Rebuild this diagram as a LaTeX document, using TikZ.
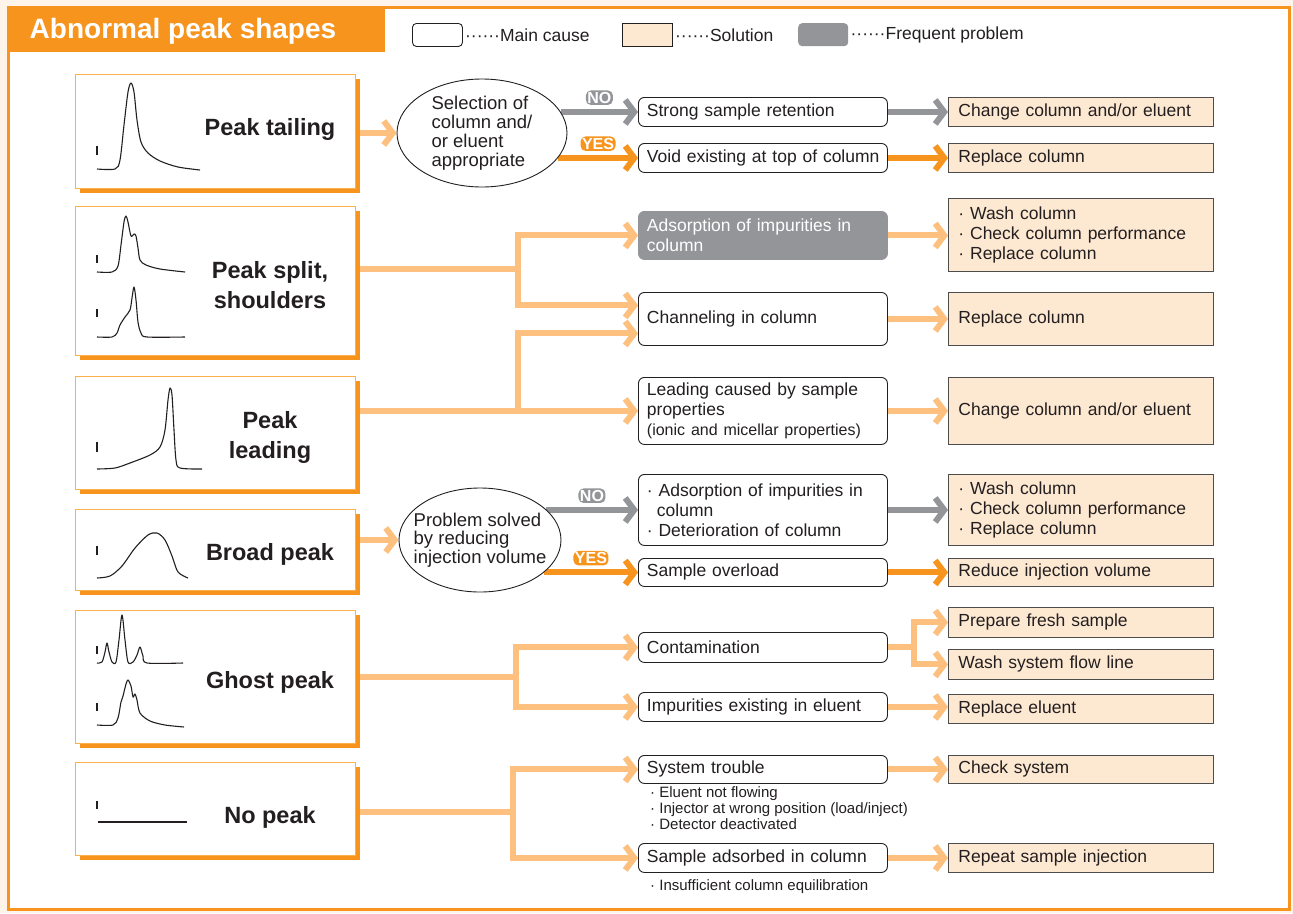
\documentclass[tikz,border=0pt]{standalone}
\usepackage{fontspec}
\setmainfont{Liberation Sans}
\usetikzlibrary{arrows.meta,positioning,shapes.geometric,shadows,backgrounds}

\definecolor{orangeD}{HTML}{F7941D}
\definecolor{orangeL}{HTML}{FDC07F}
\definecolor{orangeB}{HTML}{FBB04C}
\definecolor{peach}{HTML}{FDE8D2}
\definecolor{grayP}{HTML}{939598}
\definecolor{cream}{HTML}{FEF4E9}
\definecolor{ink}{HTML}{231F20}

\begin{document}
\begin{tikzpicture}[x=1pt, y=-1pt,
    every node/.style={text=ink},
    txt/.style={font=\fontsize{17.5}{20}\selectfont},
    shapebox/.style={draw=orangeB, line width=1.2pt, fill=white, anchor=north west,
        minimum width=280pt, drop shadow={shadow xshift=4pt, shadow yshift=-4pt, fill=orangeD, opacity=1}},
    shapelabel/.style={font=\fontsize{23.5}{30}\selectfont\bfseries, align=center},
    cause/.style={txt, draw=ink, line width=0.9pt, rounded corners=6pt, fill=white, anchor=north west,
        text width=232pt, inner xsep=8.5pt, inner ysep=3pt, align=left},
    frequent/.style={cause, draw=grayP, fill=grayP, text=white},
    solution/.style={txt, draw=ink!80, line width=0.9pt, fill=peach, anchor=north west,
        text width=245pt, inner xsep=10pt, inner ysep=3pt, align=left},
    decision/.style={ellipse, draw=ink, line width=0.9pt, fill=white, align=left,
        inner xsep=-18pt, inner ysep=-8pt},
    note/.style={font=\fontsize{15}{16}\selectfont, anchor=north west, align=left, inner sep=0pt},
    flow/.style={line width=6pt, draw=orangeL, -{Straight Barb[length=9pt, width=24pt]}},
    trunk/.style={line width=6pt, draw=orangeL, line cap=rect},
    noflow/.style={flow, draw=grayP},
    yesflow/.style={flow, draw=orangeD},
    badge/.style={font=\fontsize{16}{16}\selectfont\bfseries, text=white, rounded corners=5pt,
        text height=11.5pt, text depth=0pt, inner xsep=1.5pt, inner ysep=1.5pt, above=4pt, midway},
    trace/.style={line width=1.1pt, draw=ink, line join=round},
    tick/.style={line width=1.1pt, draw=ink},
]
    \useasboundingbox (0,0) rectangle (1293,913);

    % Frame and title bar
    \begin{scope}[on background layer]
        \fill[cream] (0,0) rectangle (1293,913);
        \draw[orangeD, line width=3pt, fill=white] (8,7) rectangle (1289,909);
        \fill[orangeD] (8,6) rectangle (385,52);
    \end{scope}
    \node[font=\fontsize{28}{28}\selectfont\bfseries, text=white] (title) at (183,31) {Abnormal peak shapes};

    % Legend
    \node[draw=ink, line width=0.9pt, rounded corners=4pt, minimum width=50pt, minimum height=23pt, anchor=north west] (lgcause) at (412,23) {};
    \node[txt, right=2pt of lgcause, inner sep=0pt] (lgcausetxt) {······Main cause};
    \node[draw=ink, line width=0.9pt, fill=peach, minimum width=50pt, minimum height=23pt, anchor=north west] (lgsol) at (622,23) {};
    \node[txt, right=2pt of lgsol, inner sep=0pt] (lgsoltxt) {······Solution};
    \node[fill=grayP, rounded corners=4pt, minimum width=50pt, minimum height=23pt, anchor=north west] (lgfreq) at (798,23) {};
    \node[txt, right=2pt of lgfreq, inner sep=0pt] (lgfreqtxt) {······Frequent problem};

    % Peak shape boxes
    \node[shapebox, minimum height=114pt] (box1) at (75,74) {};
    \node[shapebox, minimum height=149pt] (box2) at (75,206) {};
    \node[shapebox, minimum height=113pt] (box3) at (75,376) {};
    \node[shapebox, minimum height=81pt] (box4) at (75,509) {};
    \node[shapebox, minimum height=133pt] (box5) at (75,610) {};
    \node[shapebox, minimum height=93pt] (box6) at (75,762) {};

    \node[shapelabel] (lab1) at (270,129) {Peak tailing};
    \node[shapelabel] (lab2) at (270,285) {Peak split,\\shoulders};
    \node[shapelabel] (lab3) at (270,437) {Peak\\leading};
    \node[shapelabel] (lab4) at (270,554) {Broad peak};
    \node[shapelabel] (lab5) at (270,682) {Ghost peak};
    \node[shapelabel] (lab6) at (270,817) {No peak};

    % Chromatograms
    \draw[tick] (97,146) -- (97,155);
    \draw[trace] plot[smooth, tension=0.5] coordinates {(97,169) (115,169) (120,160) (124,125) (128,92) (131,83) (134,92) (137,120) (141,142) (148,153) (160,161) (178,167) (200,170)};
    \draw[tick] (97,255) -- (97,263);
    \draw[trace] plot[smooth, tension=0.5] coordinates {(97,272) (112,272) (118,266) (121,245) (124,222) (126,216) (128,222) (131,236) (134,234) (136,236) (138,248) (140,260) (146,265) (160,269) (185,272)};
    \draw[tick] (97,309) -- (97,317);
    \draw[trace] plot[smooth, tension=0.5] coordinates {(97,337) (112,337) (117,333) (120,325) (125,317) (130,310) (132,298) (134,287) (136,300) (138,322) (141,333) (147,337) (185,337)};
    \draw[tick] (97,442) -- (97,452);
    \draw[trace] plot[smooth, tension=0.5] coordinates {(97,469) (115,468) (130,463) (150,455) (160,447) (165,430) (168,400) (170,388) (172,395) (174,430) (176,460) (180,468) (202,469)};
    \draw[tick] (97,546) -- (97,555);
    \draw[trace] plot[smooth, tension=0.5] coordinates {(97,578) (110,576) (122,566) (135,548) (148,535) (157,533) (165,540) (172,556) (178,572) (188,578)};
    \draw[tick] (97,646) -- (97,654);
    \draw[trace] plot[smooth, tension=0.5] coordinates {(97,663) (102,662) (105,652) (107,643) (109,652) (112,662) (116,662) (119,640) (122,615) (125,640) (128,662) (133,662) (137,655) (140,647) (143,656) (147,663) (183,663)};
    \draw[tick] (97,703) -- (97,711);
    \draw[trace] plot[smooth, tension=0.5] coordinates {(97,725) (113,725) (118,718) (121,702) (123,696) (126,684) (128,680) (131,686) (133,697) (135,694) (137,700) (140,713) (150,721) (165,725) (184,727)};
    \draw[tick] (97,801) -- (97,809);
    \draw[trace] (98,822) -- (187,822);

    % Decisions
    \node[decision, minimum width=170pt, minimum height=108pt, font=\fontsize{18.5}{19}\selectfont] (e1) at (482,133) {Selection of\\column and/\\or eluent\\appropriate};
    \node[decision, minimum width=162pt, minimum height=104pt, font=\fontsize{18.5}{18.5}\selectfont] (e2) at (480,540) {Problem solved\\by reducing\\injection volume};

    % Main causes
    \node[cause, minimum height=29pt] (c1) at (638,97) {Strong sample retention};
    \node[cause, minimum height=29pt] (c2) at (638,143) {\mbox{Void existing at top of column}};
    \node[frequent, minimum height=48pt] (c3) at (638,211) {Adsorption of impurities in\\column};
    \node[cause, minimum height=53pt] (c4) at (638,292) {Channeling in column};
    \node[cause, minimum height=67pt] (c5) at (638,377) {Leading caused by sample\\properties\\{\fontsize{16}{18}\selectfont(ionic and micellar properties)}};
    \node[cause, minimum height=71pt] (c6) at (638,474) {· Adsorption of impurities in\\\hspace*{10pt}column\\· Deterioration of column};
    \node[cause, minimum height=28pt] (c7) at (638,558) {Sample overload};
    \node[cause, minimum height=30pt] (c8) at (638,632) {Contamination};
    \node[cause, minimum height=29pt] (c9) at (638,692) {Impurities existing in eluent};
    \node[cause, minimum height=28pt] (c10) at (638,755) {System trouble};
    \node[cause, minimum height=29pt] (c11) at (638,843) {Sample adsorbed in column};

    \node[note] (n10) at (650,786) {· Eluent not flowing\\· Injector at wrong position (load/inject)\\· Detector deactivated};
    \node[note] (n11) at (650,879) {· Insufficient column equilibration};

    % Solutions
    \node[solution, minimum height=29pt] (s1) at (948,97) {Change column and/or eluent};
    \node[solution, minimum height=29pt] (s2) at (948,143) {Replace column};
    \node[solution, minimum height=73pt] (s3) at (948,198) {· Wash column\\· Check column performance\\· Replace column};
    \node[solution, minimum height=53pt] (s4) at (948,292) {Replace column};
    \node[solution, minimum height=67pt] (s5) at (948,377) {Change column and/or eluent};
    \node[solution, minimum height=71pt] (s6) at (948,474) {· Wash column\\· Check column performance\\· Replace column};
    \node[solution, minimum height=28pt] (s7) at (948,558) {Reduce injection volume};
    \node[solution, minimum height=30pt] (s8) at (948,607) {Prepare fresh sample};
    \node[solution, minimum height=30pt] (s9) at (948,649) {Wash system flow line};
    \node[solution, minimum height=29pt] (s10) at (948,694) {Replace eluent};
    \node[solution, minimum height=28pt] (s11) at (948,755) {Check system};
    \node[solution, minimum height=29pt] (s12) at (948,843) {Repeat sample injection};

    % Connectors
    \begin{scope}[on background layer]
        % tailing
        \draw[flow] (box1.east |- e1.west) -- (e1.west);
        \draw[noflow] (c1.west -| e1.15) -- (c1.west) node[badge, fill=grayP] (no1) {NO};
        \draw[yesflow] (c2.west -| e1.-18) -- (c2.west) node[badge, fill=orangeD] (yes1) {YES};
        \draw[noflow] (c1.east) -- (c1.east -| s1.west);
        \draw[yesflow] (c2.east) -- (c2.east -| s2.west);

        % split, shoulders
        \coordinate (j2) at (518,269);
        \draw[trunk] (box2.east |- j2) -- (j2);
        \draw[flow] (j2) |- (c3.west);
        \draw[flow] (j2) |- ([yshift=13.5pt]c4.west);
        \draw[flow] (c3.east) -- (c3.east -| s3.west);
        \draw[flow] (c4.east) -- (c4.east -| s4.west);

        % leading
        \coordinate (j3) at (c5.west -| j2);
        \draw[flow] (box3.east |- c5.west) -- (c5.west);
        \draw[flow] (j3) |- ([yshift=-14.5pt]c4.west);
        \draw[flow] (c5.east) -- (c5.east -| s5.west);

        % broad
        \draw[flow] (box4.east |- e2.west) -- (e2.west);
        \draw[noflow] (c6.west -| e2.25) -- (c6.west) node[badge, fill=grayP] (no2) {NO};
        \draw[yesflow] (c7.west -| e2.-27) -- (c7.west) node[badge, fill=orangeD] (yes2) {YES};
        \draw[noflow] (c6.east) -- (c6.east -| s6.west);
        \draw[yesflow] (c7.east) -- (c7.east -| s7.west);

        % ghost
        \coordinate (j5) at (516,677);
        \draw[trunk] (box5.east |- j5) -- (j5);
        \draw[flow] (j5) |- (c8.west);
        \draw[flow] (j5) |- (c9.west);
        \coordinate (k8) at ([xshift=26pt]c8.east);
        \draw[trunk] (c8.east) -- (k8);
        \draw[flow] (k8) |- (s8.west);
        \draw[flow] (k8) |- (s9.west);
        \draw[flow] (c9.east) -- (c9.east -| s10.west);

        % no peak
        \coordinate (j6) at (513,812);
        \draw[trunk] (box6.east |- j6) -- (j6);
        \draw[flow] (j6) |- (c10.west);
        \draw[flow] (j6) |- (c11.west);
        \draw[flow] (c10.east) -- (c10.east -| s11.west);
        \draw[flow] (c11.east) -- (c11.east -| s12.west);
    \end{scope}
\end{tikzpicture}
\end{document}
